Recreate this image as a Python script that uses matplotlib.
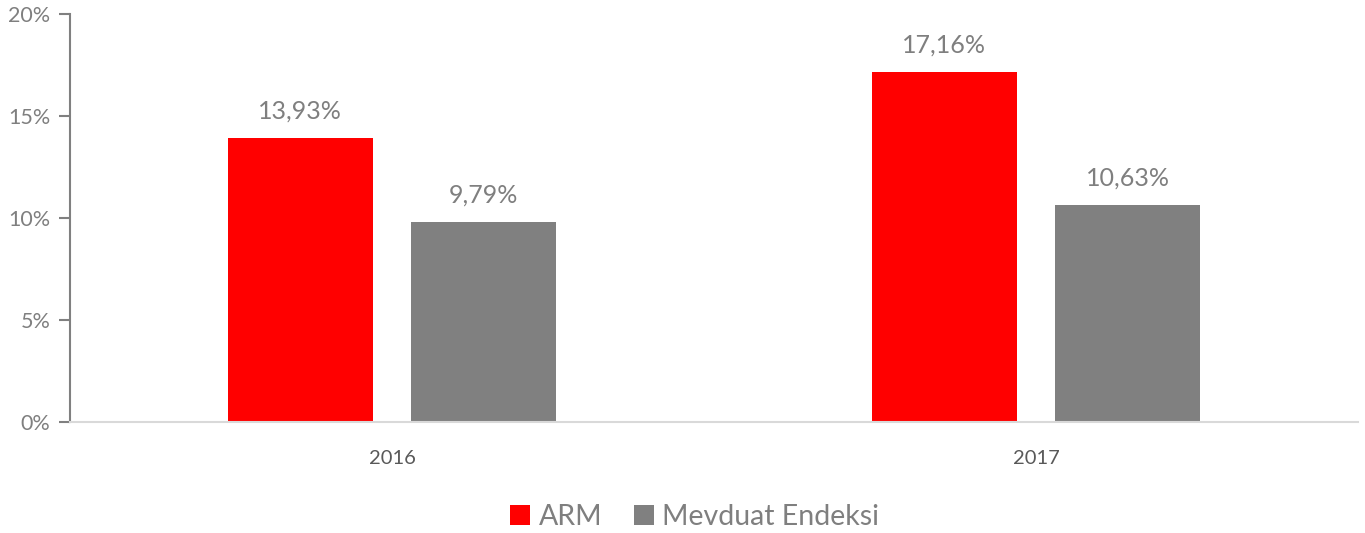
import numpy as np
import matplotlib.pyplot as plt
from matplotlib.ticker import FuncFormatter

years = ['2016', '2017']
arm = [13.93, 17.16]
mevduat = [9.79, 10.63]
series_names = ['ARM', 'Mevduat Endeksi']
colors = ['#ff0000', '#808080']
text_gray = '#7f7f7f'

plt.rcParams['font.family'] = ['Lato', 'DejaVu Sans']

fig = plt.figure(figsize=(13.65, 5.33), dpi=100)
ax = fig.add_axes([0.0513, 0.2083, 0.9436, 0.7654])

x = np.arange(len(years))
width = 0.225
offset = 0.1425

for vals, off, color, name in zip([arm, mevduat], [-offset, offset], colors, series_names):
    b = ax.bar(x + off, vals, width, color=color, label=name)
    for rect, v in zip(b, vals):
        ax.text(rect.get_x() + rect.get_width() / 2, v + 0.75,
                f'{v:.2f}%'.replace('.', ','), ha='center', va='bottom',
                fontsize=18, color=text_gray)

ax.set_xlim(-0.5, 1.5)
ax.set_ylim(0, 20)
ax.set_yticks([0, 5, 10, 15, 20])
ax.yaxis.set_major_formatter(FuncFormatter(lambda v, p: f'{v:.0f}%'))
ax.set_xticks(x)
ax.set_xticklabels(years)

for s in ['top', 'right']:
    ax.spines[s].set_visible(False)
ax.spines['left'].set_color('#808080')
ax.spines['left'].set_linewidth(1.5)
ax.spines['bottom'].set_color('#d9d9d9')
ax.spines['bottom'].set_linewidth(1.5)

ax.tick_params(axis='y', direction='out', length=8, width=1.5, color='#808080',
               labelsize=15.5, labelcolor=text_gray, pad=6)
ax.tick_params(axis='x', length=0, labelsize=14.5, labelcolor='#595959', pad=20)

ax.legend(loc='center', bbox_to_anchor=(0.485, -0.232), ncol=2, frameon=False,
          fontsize=20.5, labelcolor=text_gray, handlelength=0.7, handleheight=0.7,
          handletextpad=0.3, columnspacing=1.1)

fig.savefig('out.png', dpi=100)
